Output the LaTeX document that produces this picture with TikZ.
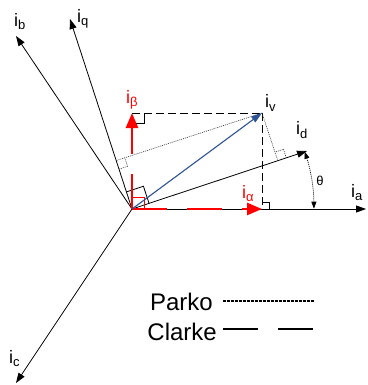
\documentclass[tikz,border=0pt]{standalone}
\usepackage{fontspec}
\setmainfont{Liberation Sans}
\usetikzlibrary{arrows.meta,calc}
\newcommand\lsub[1]{\raisebox{-3pt}{\fontsize{13}{13}\selectfont #1}}
\tikzset{
  axis/.style={line width=0.8pt,-{Triangle[length=10pt,width=7pt]}},
  redvec/.style={red,line width=2.6pt,dash pattern=on 35pt off 20pt,-{Triangle[length=15pt,width=12pt]}},
  bluevec/.style={draw={rgb,255:red,47;green,84;blue,150},line width=1.1pt,-{Triangle[length=11pt,width=7pt]},fill={rgb,255:red,47;green,84;blue,150}},
  lab/.style={inner sep=0pt,anchor=base west,font=\fontsize{18}{18}\selectfont},
  projdot/.style={line width=0.6pt,dash pattern=on 1pt off 1pt,black!80},
  projdash/.style={line width=0.8pt,dash pattern=on 8pt off 4pt},
  rmark/.style={line width=0.8pt},
  legtext/.style={inner sep=0pt,anchor=base east,font=\fontsize{24}{24}\selectfont},
}
\begin{document}
\begin{tikzpicture}[x=1pt,y=-1pt]
\useasboundingbox (0,0) rectangle (367,385);
\coordinate (O) at (132,209);
\coordinate (A) at (366,209);
\coordinate (B) at (16,36);
\coordinate (C) at (16,383);
\coordinate (Q) at (70,19);
\coordinate (D) at (307,151);
\coordinate (V) at (262,113);
\coordinate (Bt) at (132,113);
\coordinate (At) at (262,209);
\coordinate (Df) at ($(O)!(V)!(D)$);
\coordinate (Qf) at ($(O)!(V)!(Q)$);
% axes
\draw[axis] (O) -- (A);
\draw[axis] (O) -- (B);
\draw[axis] (O) -- (C);
\draw[axis] (O) -- (Q);
\draw[axis] (O) -- (D);
% projections
\draw[projdash] (Bt) -- (V);
\draw[projdash] (V) -- (At);
\draw[projdot] (V) -- (Qf);
\draw[projdot] (V) -- (Df);
% right angle marks
\draw[rmark] (132,123) -- (144,123) -- (144,113);
\draw[rmark] (262,202) -- (269,202) -- (269,209);
\draw[red,line width=1pt] (132,197) -- (144,197) -- (144,209);
\draw[rmark] ($(O)!18pt!(D)$) -- ($(O)!18pt!(D)!18pt!-90:(O)$) -- ($(O)!18pt!(Q)$);
\draw[projdot] ($(Df)!9pt!(D)$) -- ($(Df)!9pt!(D)!9pt!-90:(Df)$) -- ($(Df)!9pt!(V)$);
\draw[projdot] ($(Qf)!9pt!(O)$) -- ($(Qf)!9pt!(O)!9pt!-90:(Qf)$) -- ($(Qf)!9pt!(V)$);
% Clarke vectors
\draw[redvec] (O) -- (Bt);
\draw[redvec] (O) -- (At);
% space vector
\draw[bluevec] (O) -- (V);
% theta arc
\draw[line width=0.7pt,dash pattern=on 1pt off 1pt,{Triangle[length=7pt,width=5pt]}-{Triangle[length=7pt,width=5pt]}]
  ($(O)!182pt!(D)$) arc[start angle=18.24,end angle=0,radius=182pt];
% labels
\node[lab] (lb) at (14,27) {i\lsub{b}};
\node[lab] (lq) at (77,23) {i\lsub{q}};
\node[lab] (lc) at (9,363) {i\lsub{c}};
\node[lab,red] (lbeta) at (126,103) {i\lsub{β}};
\node[lab,red] (lalpha) at (242,198) {i\lsub{α}};
\node[lab] (lv) at (265,108) {i\lsub{v}};
\node[lab] (ld) at (296,135) {i\lsub{d}};
\node[lab] (la) at (351,197) {i\lsub{a}};
\node[inner sep=0pt,font=\fontsize{13}{13}\selectfont] (th) at (320,181) {θ};
% legend
\node[legtext] (parko) at (213,310) {Parko};
\node[legtext] (clarke) at (217,340) {Clarke};
\coordinate (p1) at (223,301);
\coordinate (p2) at (315,301);
\coordinate (c1) at (223,329);
\coordinate (c2) at (313,329);
\draw[line width=1.4pt,dash pattern=on 2.5pt off 1.5pt] (p1) -- (p2);
\draw[line width=1.3pt,dash pattern=on 35pt off 20pt] (c1) -- (c2);
\end{tikzpicture}
\end{document}
